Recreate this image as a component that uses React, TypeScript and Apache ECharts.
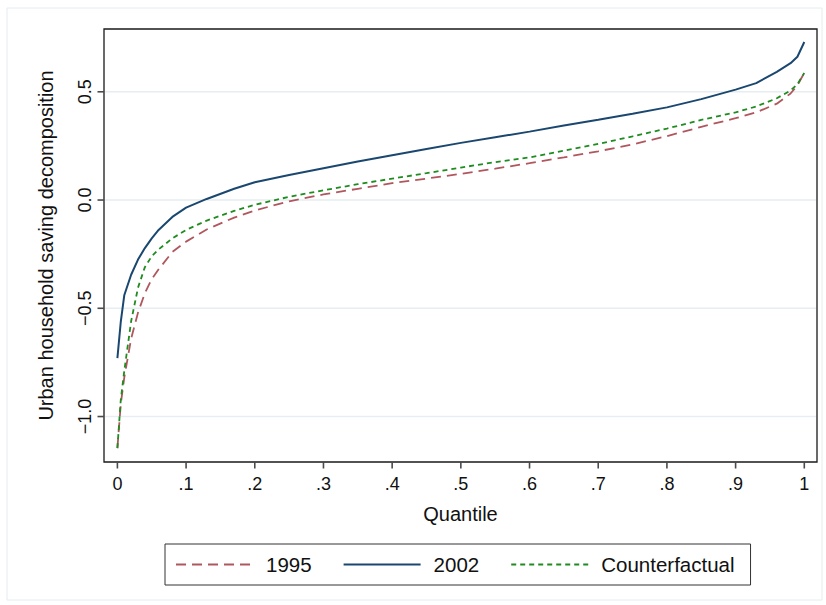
import React, { useEffect, useRef } from "react";
import * as echarts from "echarts";

const quantiles = [0, 0.005, 0.01, 0.02, 0.03, 0.04, 0.05, 0.06, 0.08, 0.1, 0.13, 0.17, 0.2, 0.25, 0.3, 0.35, 0.4, 0.45, 0.5, 0.55, 0.6, 0.65, 0.7, 0.75, 0.8, 0.85, 0.9, 0.93, 0.96, 0.98, 0.99, 1.0];

const values1995 = [-1.146, -0.94, -0.82, -0.64, -0.52, -0.43, -0.365, -0.32, -0.24, -0.192, -0.136, -0.081, -0.048, -0.006, 0.026, 0.052, 0.078, 0.099, 0.121, 0.145, 0.17, 0.197, 0.225, 0.257, 0.295, 0.338, 0.378, 0.405, 0.445, 0.492, 0.53, 0.587];

const values2002 = [-0.73, -0.56, -0.44, -0.345, -0.275, -0.222, -0.177, -0.138, -0.078, -0.035, 0.005, 0.052, 0.082, 0.116, 0.147, 0.178, 0.207, 0.236, 0.264, 0.29, 0.316, 0.344, 0.371, 0.399, 0.428, 0.466, 0.51, 0.54, 0.592, 0.632, 0.662, 0.73];

const valuesCounterfactual = [-1.146, -0.92, -0.79, -0.56, -0.405, -0.31, -0.26, -0.228, -0.177, -0.138, -0.095, -0.05, -0.022, 0.015, 0.045, 0.073, 0.099, 0.124, 0.15, 0.175, 0.197, 0.228, 0.259, 0.294, 0.33, 0.37, 0.405, 0.432, 0.47, 0.506, 0.535, 0.587];

const xTicks = [0, 0.1, 0.2, 0.3, 0.4, 0.5, 0.6, 0.7, 0.8, 0.9, 1];
const xTickLabels = ["0", ".1", ".2", ".3", ".4", ".5", ".6", ".7", ".8", ".9", "1"];
const yTicks = [-1, -0.5, 0, 0.5];
const yTickLabels = ["\u22121.0", "\u22120.5", "0.0", "0.5"];

const seriesNames = ["1995", "2002", "Counterfactual"];

const X_MIN = -0.0195;
const X_MAX = 1.0185;
const Y_MIN = -1.21;
const Y_MAX = 0.79;

const FONT = "Liberation Sans, Arial, Helvetica, sans-serif";

const pickLabel = (ticks: number[], labels: string[]) => (v: number) => {
  const idx = ticks.findIndex((t) => Math.abs(t - v) < 1e-9);
  return idx >= 0 ? labels[idx] : "";
};

export default function App() {
  const ref = useRef<HTMLDivElement>(null);

  useEffect(() => {
    if (!ref.current) return;
    const chart = echarts.init(ref.current, undefined, { renderer: "svg" });
    const toPairs = (vals: number[]) => quantiles.map((q, i) => [q, vals[i]]);

    chart.setOption({
      animation: false,
      backgroundColor: "#ffffff",
      textStyle: { fontFamily: FONT },
      grid: {
        left: 104,
        top: 29,
        right: 9,
        bottom: 143,
        show: true,
        borderColor: "#1a1a1a",
        borderWidth: 1.3,
        backgroundColor: "transparent",
      },
      legend: {
        data: seriesNames,
        left: 165,
        top: 544,
        orient: "horizontal",
        itemWidth: 77,
        itemHeight: 14,
        itemGap: 31,
        padding: [10, 16, 10, 10],
        borderColor: "#333333",
        borderWidth: 1,
        itemStyle: { opacity: 0 },
        textStyle: {
          fontSize: 20.5,
          color: "#111111",
          fontFamily: FONT,
          padding: [0, 0, 0, 8],
          lineHeight: 20,
        },
      },
      xAxis: {
        type: "value",
        min: X_MIN,
        max: X_MAX,
        name: "Quantile",
        nameLocation: "middle",
        nameGap: 42,
        nameTextStyle: { fontSize: 20, color: "#111111", fontFamily: FONT },
        axisLine: { show: false },
        axisTick: { show: false },
        axisLabel: {
          customValues: xTicks,
          fontSize: 18,
          color: "#111111",
          margin: 13,
          formatter: pickLabel(xTicks, xTickLabels),
        },
        splitLine: { show: false },
      },
      yAxis: {
        type: "value",
        min: Y_MIN,
        max: Y_MAX,
        name: "Urban household saving decomposition",
        nameLocation: "middle",
        nameGap: 48,
        nameTextStyle: { fontSize: 20, color: "#111111", fontFamily: FONT },
        axisLine: { show: false },
        axisTick: { show: false },
        axisLabel: {
          customValues: yTicks,
          rotate: 90,
          fontSize: 18,
          color: "#111111",
          margin: 10,
          formatter: pickLabel(yTicks, yTickLabels),
        },
        splitLine: { show: false },
      },
      series: [
        {
          name: "1995",
          type: "line",
          data: toPairs(values1995),
          showSymbol: false,
          symbol: "none",
          z: 3,
          color: "#b0575e",
          lineStyle: { color: "#b0575e", width: 1.8, type: [10, 6] },
        },
        {
          name: "2002",
          type: "line",
          data: toPairs(values2002),
          showSymbol: false,
          symbol: "none",
          z: 4,
          color: "#1a476f",
          lineStyle: { color: "#1a476f", width: 2 },
        },
        {
          name: "Counterfactual",
          type: "line",
          data: toPairs(valuesCounterfactual),
          showSymbol: false,
          symbol: "none",
          z: 5,
          color: "#1e8c1e",
          lineStyle: { color: "#1e8c1e", width: 1.8, type: [5, 4] },
        },
      ],
    });

    // Ticks and gridlines placed through the axes' own scales.
    const px = (q: number) => chart.convertToPixel({ xAxisIndex: 0 }, q) as number;
    const py = (v: number) => chart.convertToPixel({ yAxisIndex: 0 }, v) as number;
    const left = px(X_MIN);
    const right = px(X_MAX);
    const bottom = py(Y_MIN);
    const TICK = 6.5;

    const elements: any[] = [
      {
        type: "rect",
        shape: { x: 7, y: 8, width: 815, height: 592 },
        style: { fill: "none", stroke: "#e4ecef", lineWidth: 1 },
        silent: true,
        z: 0,
      },
    ];
    yTicks.forEach((t) => {
      const y = py(t);
      elements.push({
        type: "line",
        shape: { x1: left + 1, y1: y, x2: right - 1, y2: y },
        style: { stroke: "#e6eef1", lineWidth: 1.5 },
        silent: true,
        z: 1,
      });
      elements.push({
        type: "line",
        shape: { x1: left - TICK, y1: y, x2: left, y2: y },
        style: { stroke: "#4a4a4a", lineWidth: 1.6 },
        silent: true,
        z: 10,
      });
    });
    xTicks.forEach((t) => {
      const x = px(t);
      elements.push({
        type: "line",
        shape: { x1: x, y1: bottom, x2: x, y2: bottom + TICK },
        style: { stroke: "#4a4a4a", lineWidth: 1.6 },
        silent: true,
        z: 10,
      });
    });

    chart.setOption({ graphic: elements });

    return () => chart.dispose();
  }, []);

  return (
    <div
      ref={ref}
      style={{ position: "fixed", left: 0, top: 0, width: 826, height: 605 }}
    />
  );
}
